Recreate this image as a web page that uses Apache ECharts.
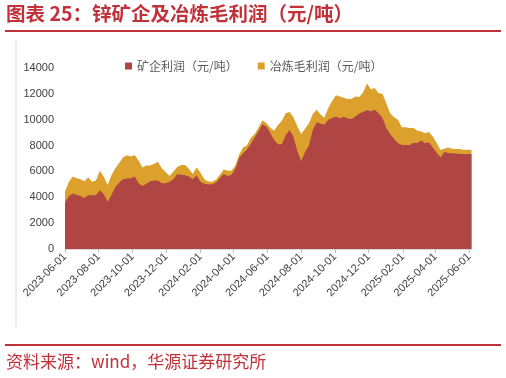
<!DOCTYPE html>
<html>
<head>
<meta charset="utf-8">
<script src="https://cdn.jsdelivr.net/npm/echarts@6/dist/echarts.min.js"></script>
<style>
html,body{margin:0;padding:0;background:#fff;}
#c{width:506px;height:378px;}
</style>
</head>
<body>
<div id="c"></div>
<script>
var dates = [
'2023-06-01','2023-06-08','2023-06-15','2023-06-22','2023-06-29','2023-07-06','2023-07-13','2023-07-20','2023-07-27',
'2023-08-03','2023-08-10','2023-08-17','2023-08-24','2023-08-31','2023-09-07','2023-09-14','2023-09-21','2023-09-28',
'2023-10-05','2023-10-12','2023-10-19','2023-10-26','2023-11-02','2023-11-09','2023-11-16','2023-11-23','2023-11-30',
'2023-12-07','2023-12-14','2023-12-21','2023-12-28','2024-01-04','2024-01-11','2024-01-18','2024-01-25','2024-02-01',
'2024-02-08','2024-02-15','2024-02-22','2024-02-29','2024-03-07','2024-03-14','2024-03-21','2024-03-28','2024-04-04',
'2024-04-11','2024-04-18','2024-04-25','2024-05-02','2024-05-09','2024-05-16','2024-05-23','2024-05-30','2024-06-06',
'2024-06-13','2024-06-20','2024-06-27','2024-07-04','2024-07-11','2024-07-18','2024-07-25','2024-08-01','2024-08-08',
'2024-08-15','2024-08-22','2024-08-29','2024-09-05','2024-09-12','2024-09-19','2024-09-26','2024-10-03','2024-10-10',
'2024-10-17','2024-10-24','2024-10-31','2024-11-07','2024-11-14','2024-11-21','2024-11-28','2024-12-05','2024-12-12',
'2024-12-19','2024-12-26','2025-01-02','2025-01-09','2025-01-16','2025-01-23','2025-01-30','2025-02-06','2025-02-13',
'2025-02-20','2025-02-27','2025-03-06','2025-03-13','2025-03-20','2025-03-27','2025-04-03','2025-04-10','2025-04-17',
'2025-04-24','2025-05-01','2025-05-08','2025-05-15','2025-05-22','2025-05-29','2025-06-05'
];
// 矿企利润（元/吨）
var mineProfit = [
3580,4100,4300,4180,4100,3950,4150,4150,4150,
4550,4250,3660,4180,4800,5150,5400,5450,5480,
5600,5085,4880,5050,5250,5300,5290,5085,5085,
5200,5400,5800,5750,5700,5600,5400,5700,5200,
5050,4980,5000,5150,5500,5800,5650,5750,6200,
7050,7400,7700,8150,8650,9100,9650,9500,9000,
8450,8100,8100,8800,9200,8700,7600,6800,7500,
8000,9200,9800,9700,9610,9990,10130,10230,10120,
10220,10100,10050,10250,10480,10600,10750,10650,10770,
10500,10150,9350,8900,8500,8200,8050,8050,8050,
8200,8200,8400,8180,8250,7850,7450,7100,7500,
7420,7400,7380,7350,7350,7350,7350
];
// 冶炼毛利润（元/吨）
var smeltProfit = [
850,1100,1300,1290,1300,1300,1400,1050,1150,
1500,1350,1290,1520,1450,1500,1700,1800,1670,
1680,1765,1420,1400,1200,1300,1450,1165,865,
450,600,550,750,800,600,400,600,700,
350,250,200,200,250,350,400,300,250,
250,450,300,450,250,300,300,250,400,
700,1500,1800,1700,1400,1500,1900,2100,1800,
1700,1250,970,700,540,910,1320,1670,1680,
1480,1500,1550,1550,1270,1500,2050,1700,1680,
1550,1850,1900,1600,1700,1800,1370,1370,1300,
1150,950,690,780,800,850,750,550,250,
430,350,350,380,330,320,300
];
var tickDates = ['2023-06-01','2023-08-01','2023-10-01','2023-12-01','2024-02-01','2024-04-01','2024-06-01',
'2024-08-01','2024-10-01','2024-12-01','2025-02-01','2025-04-01','2025-06-01'];
var legendNames = ['矿企利润（元/吨）','冶炼毛利润（元/吨）'];
var titleText = '图表 25：锌矿企及冶炼毛利润（元/吨）';
var sourceText = '资料来源：wind，华源证券研究所';

function ts(s){var p=s.split('-');return Date.UTC(+p[0],+p[1]-1,+p[2]);}
function pad(n){return (n<10?'0':'')+n;}
function fmt(v){var d=new Date(v);return d.getUTCFullYear()+'-'+pad(d.getUTCMonth()+1)+'-'+pad(d.getUTCDate());}
var tickVals = tickDates.map(ts);

var RED_AREA='#B04644', YEL_AREA='#DCA02C';
var chart = echarts.init(document.getElementById('c'), null, {renderer:'canvas'});
var RED='#C0313A';
chart.setOption({
  animation:false,
  backgroundColor:'#fff',
  textStyle:{fontFamily:'"Liberation Sans","Noto Sans CJK SC",sans-serif'},
  graphic:[
    {type:'text',left:6,top:4,style:{text:titleText,fill:RED,font:'bold 19.5px "Noto Sans CJK SC"'}},
    {type:'line',shape:{x1:5,y1:31,x2:501,y2:31},style:{stroke:RED,lineWidth:2}},
    {type:'line',shape:{x1:16,y1:40,x2:16,y2:327},style:{stroke:'#d9d9d9',lineWidth:1}},
    {type:'line',shape:{x1:5,y1:345,x2:501,y2:345},style:{stroke:RED,lineWidth:2}},
    {type:'text',left:6,top:353,style:{text:sourceText,fill:RED,font:'17px "Noto Sans CJK SC"'}}
  ],
  legend:{
    left:120, top:55, itemWidth:7, itemHeight:7, itemGap:20, icon:'rect',
    textStyle:{fontSize:12,color:'#595959',fontFamily:'"Noto Sans CJK SC"'},
    data:legendNames
  },
  grid:{left:65,right:34.5,top:68,bottom:129},
  xAxis:{
    type:'value',
    min:ts(dates[0]), max:ts(dates[dates.length-1]),
    axisLine:{show:true,lineStyle:{color:'#d9d9d9'}},
    axisTick:{show:true,length:4,lineStyle:{color:'#bfbfbf'},customValues:tickVals},
    axisLabel:{rotate:45,fontSize:11,color:'#404040',margin:6,customValues:tickVals,
      formatter:function(v){return fmt(v);}},
    splitLine:{show:false}
  },
  yAxis:{
    type:'value', min:0, max:14000, interval:2000,
    axisLine:{show:false}, axisTick:{show:false}, splitLine:{show:false},
    axisLabel:{fontSize:11,color:'#404040',margin:11,formatter:function(v){return String(v);}}
  },
  series:[
    // upper band: smelting profit stacked on top of mine profit (drawn first, underneath)
    {name:legendNames[1],type:'line',symbol:'none',z:2,
     lineStyle:{width:0},itemStyle:{color:YEL_AREA},areaStyle:{color:YEL_AREA,opacity:1},
     data:dates.map(function(d,i){return [ts(d),mineProfit[i]+smeltProfit[i]];})},
    {name:legendNames[0],type:'line',symbol:'none',z:3,
     lineStyle:{width:0},itemStyle:{color:RED_AREA},areaStyle:{color:RED_AREA,opacity:1},
     data:dates.map(function(d,i){return [ts(d),mineProfit[i]];})}
  ]
});
</script>
</body>
</html>
